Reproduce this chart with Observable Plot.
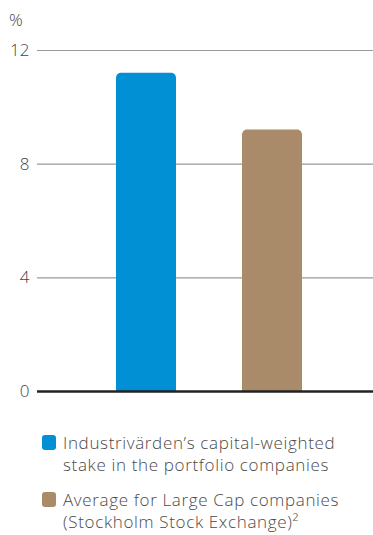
<!DOCTYPE html>
<html>
<head>
<meta charset="utf-8">
<script src="https://cdn.jsdelivr.net/npm/d3@7"></script>
<script src="https://cdn.jsdelivr.net/npm/@observablehq/plot@0.6"></script>
<style>
  html, body { margin: 0; padding: 0; background: #fff; }
  body { width: 373px; height: 535px; overflow: hidden; font-family: "Open Sans", Lato, sans-serif; font-weight: 300; color: #4a4a4a; }
  #wrap { position: relative; width: 373px; }
  #unit { position: absolute; left: 9px; top: 11px; font-size: 17px; line-height: 1; color: #444; }
  #chart svg { display: block; }
  #legend { padding-top: 22px; }
  .item { position: relative; padding-left: 63px; font-size: 17px; line-height: 22px; margin-bottom: 13px; color: #4a4a4a; letter-spacing: 0.65px; white-space: nowrap; }
  .sw { position: absolute; left: 42px; top: 3px; width: 14px; height: 15px; border-radius: 3px; }
</style>
</head>
<body>
<div id="wrap">
  <div id="unit">%</div>
  <div id="chart"></div>
  <div id="legend"></div>
</div>
<script>
const categories = ["Industrivärden", "Large Cap average"];
const values = [11.2, 9.2];
const colors = ["#0090d3", "#a98b69"];
const yTicks = [0, 4, 8, 12];
const legendLabels = [
  ["Industrivärden’s capital-weighted", "stake in the portfolio companies"],
  ["Average for Large Cap companies", "(Stockholm Stock Exchange)²"]
];

const data = categories.map((c, i) => ({cat: c, value: values[i], half: values[i] / 2}));

const plot = Plot.plot({
  width: 373,
  height: 410,
  marginTop: 50,
  marginBottom: 19,
  marginLeft: 37,
  marginRight: 0,
  style: {fontFamily: "'Open Sans', Lato, sans-serif", fontWeight: 300, fontSize: "17px", color: "#444", background: "#fff"},
  x: {domain: categories, range: [115.7, 302.5], paddingInner: 0.526, paddingOuter: 0, axis: null},
  y: {domain: [0, 12], ticks: yTicks, label: null},
  color: {domain: categories, range: colors},
  marks: [
    Plot.gridY(yTicks, {stroke: "#999", strokeOpacity: 1, strokeWidth: 1.2}),
    Plot.axisY(yTicks, {tickSize: 0, tickPadding: 8, label: null, fontSize: 17, fill: "#444"}),
    Plot.barY(data, {x: "cat", y: "value", fill: "cat", rx: 5}),
    Plot.barY(data, {x: "cat", y: "half", fill: "cat"}),
    Plot.ruleY([0], {stroke: "#222", strokeWidth: 2.5})
  ]
});
document.getElementById("chart").appendChild(plot);

const legend = document.getElementById("legend");
legendLabels.forEach((lines, i) => {
  const item = document.createElement("div");
  item.className = "item";
  const sw = document.createElement("span");
  sw.className = "sw";
  sw.style.background = colors[i];
  item.appendChild(sw);
  lines.forEach((t, j) => {
    if (j) item.appendChild(document.createElement("br"));
    item.appendChild(document.createTextNode(t));
  });
  legend.appendChild(item);
});
</script>
</body>
</html>
